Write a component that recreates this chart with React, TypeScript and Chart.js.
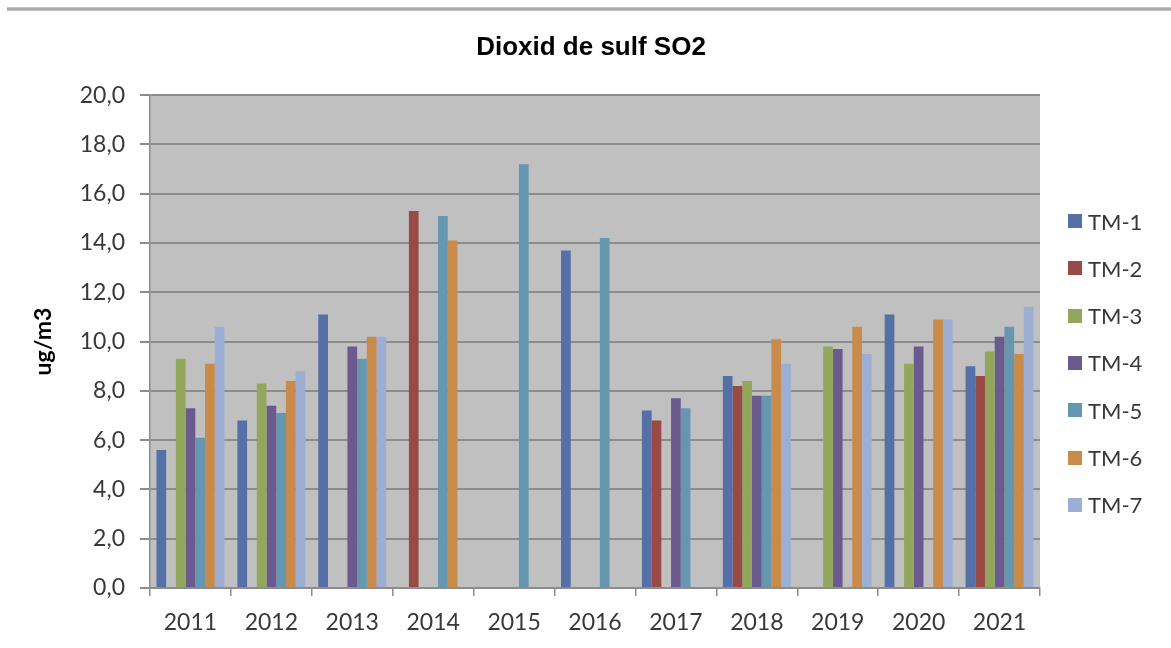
import React, { useEffect, useRef } from "react";
import { Chart, registerables } from "chart.js";

Chart.register(...registerables);

const years = ["2011", "2012", "2013", "2014", "2015", "2016", "2017", "2018", "2019", "2020", "2021"];

const seriesNames = ["TM-1", "TM-2", "TM-3", "TM-4", "TM-5", "TM-6", "TM-7"];

const tm1 = [5.6, 6.8, 11.1, null, null, 13.7, 7.2, 8.6, null, 11.1, 9.0];
const tm2 = [null, null, null, 15.3, null, null, 6.8, 8.2, null, null, 8.6];
const tm3 = [9.3, 8.3, null, null, null, null, null, 8.4, 9.8, 9.1, 9.6];
const tm4 = [7.3, 7.4, 9.8, null, null, null, 7.7, 7.8, 9.7, 9.8, 10.2];
const tm5 = [6.1, 7.1, 9.3, 15.1, 17.2, 14.2, 7.3, 7.8, null, null, 10.6];
const tm6 = [9.1, 8.4, 10.2, 14.1, null, null, null, 10.1, 10.6, 10.9, 9.5];
const tm7 = [10.6, 8.8, 10.2, null, null, null, null, 9.1, 9.5, 10.9, 11.4];

const seriesValues = [tm1, tm2, tm3, tm4, tm5, tm6, tm7];

const colors = ["#5470A6", "#9A4A46", "#93A75C", "#6B5A8E", "#6598B0", "#C98B4A", "#9DAED5"];

const titleText = "Dioxid de sulf SO2";
const yTitle = "ug/m3";

const plotBg = {
  id: "plotBg",
  beforeDraw(chart: any) {
    const { ctx, chartArea } = chart;
    if (!chartArea) return;
    ctx.save();
    ctx.fillStyle = "#c0c0c0";
    ctx.fillRect(chartArea.left, chartArea.top, chartArea.right - chartArea.left, chartArea.bottom - chartArea.top);
    ctx.restore();
  },
};

export default function App() {
  const ref = useRef<HTMLCanvasElement | null>(null);

  useEffect(() => {
    if (!ref.current) return;
    const chart = new Chart(ref.current, {
      type: "bar",
      data: {
        labels: years,
        datasets: seriesNames.map((name, i) => ({
          label: name,
          data: seriesValues[i],
          backgroundColor: colors[i],
          borderWidth: 0,
          categoryPercentage: 0.84,
          barPercentage: 1.0,
          yAxisID: "y",
        })),
      },
      options: {
        animation: false,
        responsive: false,
        devicePixelRatio: 1,
        layout: { padding: { left: 11, right: 0, top: 0, bottom: 0 } },
        plugins: {
          legend: { display: false },
          tooltip: { enabled: false },
          title: {
            display: true,
            text: titleText,
            color: "#000",
            font: { family: "'Liberation Sans', Arial, sans-serif", size: 26, weight: "bold" },
            padding: { top: 32, bottom: 32 },
          },
        },
        scales: {
          x: {
            type: "category",
            offset: true,
            grid: {
              display: true,
              drawOnChartArea: false,
              offset: true,
              tickLength: 8,
              color: "#8c8c8c",
              lineWidth: 1.5,
            },
            border: { display: true, color: "#8c8c8c", width: 1.5 },
            ticks: {
              color: "#383838",
              font: { family: "Lato, 'Open Sans', sans-serif", size: 23 },
              padding: 13,
              maxRotation: 0,
              autoSkip: false,
            },
            afterFit(scale: any) {
              scale.height = 60;
            },
          },
          y: {
            position: "left",
            min: 0,
            max: 20,
            ticks: {
              stepSize: 2,
              color: "#383838",
              font: { family: "Lato, 'Open Sans', sans-serif", size: 23 },
              padding: 15,
              callback: (v: any) => Number(v).toFixed(1).replace(".", ","),
            },
            grid: {
              color: "#8c8c8c",
              lineWidth: 2,
              tickLength: 10,
            },
            border: { display: true, color: "#8c8c8c", width: 1.5 },
            title: {
              display: true,
              text: yTitle,
              color: "#000",
              font: { family: "Lato, 'Open Sans', sans-serif", size: 23, weight: "bold" },
              padding: { top: 19, bottom: 0 },
            },
            afterFit(scale: any) {
              scale.width = 139;
            },
          },
          spacer: {
            position: "right",
            display: true,
            grid: { display: false },
            border: { display: false },
            ticks: { display: false },
            afterFit(scale: any) {
              scale.width = 131;
            },
          },
        },
      },
      plugins: [plotBg],
    } as any);
    return () => chart.destroy();
  }, []);

  return (
    <div style={{ position: "absolute", left: 0, top: 0, width: 1171, height: 648, background: "#fff" }}>
      <div
        style={{
          position: "absolute",
          left: 7,
          right: 0,
          top: 7,
          height: 4,
          background: "linear-gradient(#d2d2d2, #9a9a9a 50%, #d2d2d2)",
        }}
      />
      <canvas ref={ref} width={1171} height={648} style={{ display: "block", width: 1171, height: 648 }} />
      {seriesNames.map((name, i) => (
        <div
          key={name}
          style={{
            position: "absolute",
            left: 1068,
            top: 221 + i * 47.3 - 14,
            height: 28,
            display: "flex",
            alignItems: "center",
            fontFamily: "Lato, 'Open Sans', sans-serif",
            fontSize: 22,
            color: "#383838",
            whiteSpace: "nowrap",
          }}
        >
          <span style={{ display: "inline-block", width: 14, height: 14, background: colors[i], marginRight: 6 }} />
          <span>{name}</span>
        </div>
      ))}
    </div>
  );
}
